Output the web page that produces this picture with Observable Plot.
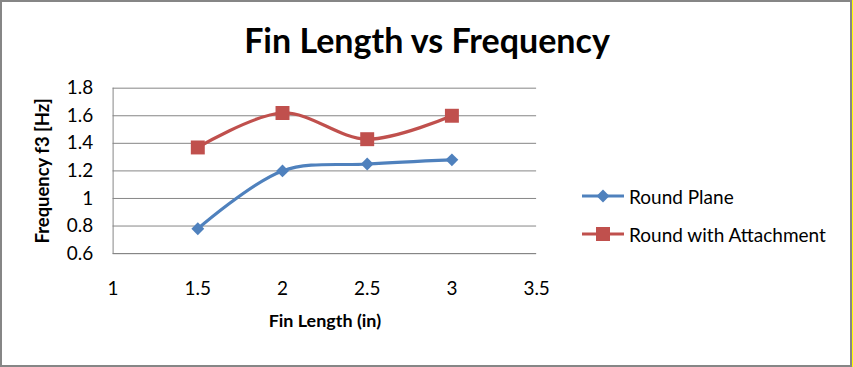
<!DOCTYPE html>
<html>
<head>
<meta charset="utf-8">
<script src="https://cdn.jsdelivr.net/npm/d3@7"></script>
<script src="https://cdn.jsdelivr.net/npm/@observablehq/plot@0.6"></script>
<style>
  html, body { margin: 0; padding: 0; background: #fff; }
  #frame { position: relative; width: 852px; height: 367px; box-sizing: border-box; border: 2px solid #868686; background: #fff; overflow: hidden; font-family: Lato, "Open Sans", sans-serif; }
  #edge { position: absolute; left: 852px; top: 0; width: 1px; height: 367px; background: #ffff00; }
  #title { position: absolute; left: 0; width: 850px; top: 18px; text-align: center; font-weight: bold; font-size: 34px; color: #000; line-height: 40px; }
  #chart { position: absolute; left: -2px; top: -2px; }
  .leg { position: absolute; left: 580px; height: 20px; display: flex; align-items: center; font-size: 19px; color: #000; }
  .leg svg { margin-right: 5px; }
</style>
</head>
<body>
<div id="frame">
  <div id="title"></div>
  <div id="chart"></div>
</div>
<div id="edge"></div>
<script>
const titleText = "Fin Length vs Frequency";
const xLabel = "Fin Length (in)";
const yLabel = "Frequency f3 [Hz]";
const finLength = [1.5, 2, 2.5, 3];
const roundPlane = [0.78, 1.2, 1.25, 1.28];
const roundAttach = [1.37, 1.62, 1.43, 1.6];
const seriesNames = ["Round Plane", "Round with Attachment"];
const seriesColors = ["#4F81BD", "#C0504D"];
const seriesSymbols = ["diamond2", "square"];
const markerR = [5.8, 7.9];
const xTicks = [1, 1.5, 2, 2.5, 3, 3.5];
const yTicks = [0.6, 0.8, 1, 1.2, 1.4, 1.6, 1.8];

document.getElementById("title").textContent = titleText;

const seriesData = [roundPlane, roundAttach].map((vals, s) =>
  vals.map((v, i) => ({series: seriesNames[s], x: finLength[i], y: v})));
const data = seriesData.flat();

const chart = Plot.plot({
  width: 853,
  height: 367,
  marginLeft: 113,
  marginRight: 315,
  marginTop: 88,
  marginBottom: 113,
  style: {fontFamily: "Lato, 'Open Sans', sans-serif", fontSize: "19px", color: "#000", background: "transparent"},
  x: {domain: [1, 3.5], ticks: xTicks, tickFormat: d => String(d), label: null},
  y: {domain: [0.6, 1.8], ticks: yTicks, tickFormat: d => String(d), label: null},
  color: {domain: seriesNames, range: seriesColors},
  symbol: {domain: seriesNames, range: seriesSymbols},
  marks: [
    Plot.gridY(yTicks, {stroke: "#868686", strokeOpacity: 1, strokeWidth: 1}),
    Plot.ruleX([1], {stroke: "#868686", strokeWidth: 1}),
    Plot.ruleY([0.6], {stroke: "#868686", strokeWidth: 1}),
    Plot.axisX(xTicks, {tickSize: 0, tickPadding: 28, tickFormat: d => String(d), fontSize: 19, label: null}),
    Plot.axisY(yTicks, {tickSize: 0, tickPadding: 20, tickFormat: d => String(d), fontSize: 19, label: null}),
    Plot.text([xLabel], {frameAnchor: "bottom", dy: 74, fontWeight: "bold", fontSize: 18, text: d => d}),
    Plot.text([yLabel], {frameAnchor: "left", dx: -70, rotate: -90, textAnchor: "middle", fontWeight: "bold", fontSize: 18.5, text: d => d}),
    Plot.line(data, {x: "x", y: "y", z: "series", stroke: "series", strokeWidth: 3.2, curve: "catmull-rom"}),
    ...seriesData.map((sd, s) => Plot.dot(sd, {x: "x", y: "y", symbol: () => seriesSymbols[s], fill: seriesColors[s], stroke: "none", r: markerR[s]}))
  ]
});
document.getElementById("chart").appendChild(chart);

// legend
const frame = document.getElementById("frame");
const legTops = [184, 222];
seriesNames.forEach((name, i) => {
  const div = document.createElement("div");
  div.className = "leg";
  div.style.top = legTops[i] + "px";
  const svg = d3.create("svg").attr("width", 42).attr("height", 20);
  svg.append("line").attr("x1", 0).attr("x2", 42).attr("y1", 10).attr("y2", 10)
    .attr("stroke", seriesColors[i]).attr("stroke-width", 3.2);
  const sym = i === 0 ? d3.symbolDiamond2 : d3.symbolSquare;
  const size = Math.PI * markerR[i] * markerR[i];
  svg.append("path").attr("d", d3.symbol(sym, size)()).attr("transform", "translate(21,10)").attr("fill", seriesColors[i]);
  div.appendChild(svg.node());
  const span = document.createElement("span");
  span.textContent = name;
  div.appendChild(span);
  frame.appendChild(div);
});
</script>
</body>
</html>
